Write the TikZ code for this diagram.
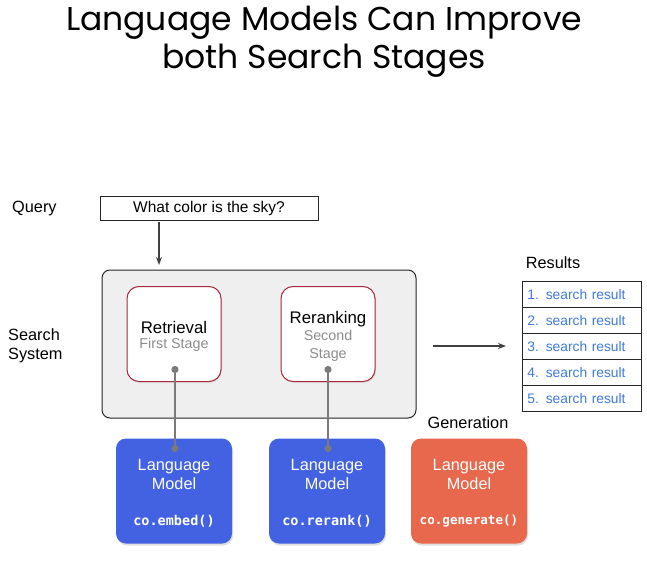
\documentclass[tikz,border=0pt]{standalone}
\usepackage{fontspec}
\setmainfont{Liberation Sans}
\newfontfamily\titlefont{Poppins}
\newfontfamily\codefont{DejaVu Sans Mono}
\usetikzlibrary{arrows.meta,shadows}
\definecolor{panelgray}{HTML}{EFEFEF}
\definecolor{stagered}{HTML}{A8283C}
\definecolor{lmblue}{HTML}{4262E1}
\definecolor{lmorange}{HTML}{E8684E}
\definecolor{resblue}{HTML}{3F7BDB}
\definecolor{linkgray}{HTML}{7A7A7A}
\definecolor{subgray}{HTML}{8C8C8C}
\tikzset{
  label/.style={font=\fontsize{16.3}{19}\selectfont, align=center},
  stagebox/.style={draw=stagered, line width=1pt, fill=white, rounded corners=12pt,
    minimum width=94pt, minimum height=95pt, drop shadow={opacity=0.15, shadow xshift=1pt, shadow yshift=-1.5pt}},
  lmbox/.style={rounded corners=10pt, minimum width=116pt, minimum height=105pt,
    drop shadow={opacity=0.25, shadow xshift=1pt, shadow yshift=-2pt}},
  rescell/.style={draw=black!85, line width=0.8pt, minimum width=119pt, minimum height=26pt,
    text width=109pt, align=left, font=\fontsize{13.8}{15}\selectfont, text=resblue,
    anchor=north west, inner xsep=5pt},
  arrowline/.style={draw=black!75, line width=1.1pt, -{Stealth[length=8pt,width=6pt]}},
  link/.style={draw=linkgray, line width=2pt, {Circle[length=7pt]}-{Circle[length=7pt]}},
}
\begin{document}
\begin{tikzpicture}[x=1pt,y=-1pt]
\useasboundingbox[fill=white] (0,0) rectangle (647,569);

% title
\node[font=\titlefont\fontsize{33}{38}\selectfont, align=center] (title) at (324,42)
  {Language Models Can Improve\\both Search Stages};

% query
\node[label, anchor=west, inner sep=0pt] (querylbl) at (12,209) {Query};
\node[draw=black!85, line width=0.8pt, minimum width=218pt, minimum height=24pt,
  font=\fontsize{15.5}{17}\selectfont] (query) at (209,208) {What color is the sky?};

% search system panel
\node[draw=black!85, line width=1pt, fill=panelgray, rounded corners=8pt,
  minimum width=314pt, minimum height=148pt] (panel) at (259,344) {};
\node[label, anchor=west, align=left, inner sep=0pt] (searchlbl) at (8,346) {Search\\System};
\coordinate (qin) at (159,265);
\draw[arrowline] (159,222) -- (qin);

% stages
\node[stagebox] (retrieval) at (174,334) {};
\node[font=\fontsize{16.8}{19}\selectfont] (rettxt) at (174,327) {Retrieval};
\node[font=\fontsize{14.3}{16}\selectfont, text=subgray] (retsub) at (174,345) {First Stage};
\node[stagebox] (rerank) at (328,334) {};
\node[font=\fontsize{16.8}{19}\selectfont] (rertxt) at (328,319) {Reranking};
\node[font=\fontsize{14.3}{17.5}\selectfont, text=subgray, align=center] (rersub) at (328,346) {Second\\Stage};

% results
\node[label] (reslbl) at (553,263) {Results};
\foreach \i in {1,...,5}{
  \node[rescell] (r\i) at (522,{281+26*(\i-1)}) {\i. search result};
}
\coordinate (resin) at (506,346);
\draw[arrowline] (433,346) -- (resin);

% language models
\node[label] (genlbl) at (468,423) {Generation};
\node[lmbox, fill=lmblue] (lm1) at (174,491) {};
\node[lmbox, fill=lmblue] (lm2) at (327,491) {};
\node[lmbox, fill=lmorange] (lm3) at (469,491) {};
\foreach \n in {lm1,lm2,lm3}{
  \node[text=white, font=\fontsize{16.3}{19.5}\selectfont, align=center] at ([yshift=16.5pt]\n.center) {Language\\Model};
}
\node[text=white, font=\codefont\bfseries\fontsize{13.5}{15}\selectfont] at ([yshift=-30pt]lm1.center) {co.embed()};
\node[text=white, font=\codefont\bfseries\fontsize{13.5}{15}\selectfont] at ([yshift=-30pt]lm2.center) {co.rerank()};
\node[text=white, font=\codefont\bfseries\fontsize{12.6}{15}\selectfont] at ([yshift=-30pt]lm3.center) {co.generate()};

% links from stages to models
\coordinate (d1) at (175,366);
\coordinate (e1) at (175,452);
\coordinate (d2) at (328,366);
\coordinate (e2) at (328,452);
\draw[link] (d1) -- (e1);
\draw[link] (d2) -- (e2);
\end{tikzpicture}
\end{document}
